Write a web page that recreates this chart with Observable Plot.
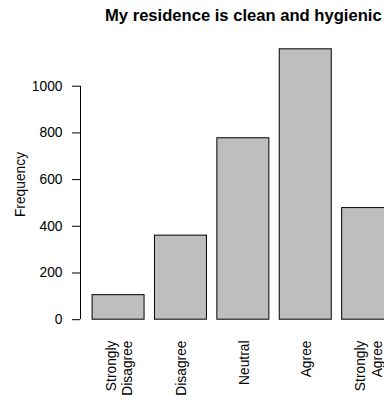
<!DOCTYPE html>
<html><head><meta charset="utf-8">
<script src="https://cdn.jsdelivr.net/npm/d3@7"></script>
<script src="https://cdn.jsdelivr.net/npm/@observablehq/plot@0.6"></script>
<style>
html,body{margin:0;padding:0;background:#fff;overflow:hidden;}
#chart svg{overflow:hidden;display:block;}
</style></head><body><div id="chart"></div>
<script>
const title = "My residence is clean and hygienic";
const categories = ["Strongly\nDisagree", "Disagree", "Neutral", "Agree", "Strongly\nAgree"];
const frequencies = [105, 360, 777, 1158, 478];
const yTicks = [0, 200, 400, 600, 800, 1000];
const yLabel = "Frequency";

// R barplot geometry: width 1, space 0.2
const barWidth = 1, space = 0.2;
const data = categories.map((c, i) => ({
  category: c,
  value: frequencies[i],
  x1: space + i * (barWidth + space),
  x2: space + i * (barWidth + space) + barWidth
}));
const xl = [data[0].x1, data[data.length - 1].x2];
const xPad = 0.04 * (xl[1] - xl[0]);
const xDomain = [xl[0] - xPad, xl[1] + xPad];
const yMax = d3.max(frequencies);
const yPad = 0.04 * yMax;
const yDomain = [-yPad, yMax + yPad];

const font = "'Liberation Sans', Arial, Helvetica, sans-serif";
const fs = 13.8;

const chart = Plot.plot({
  width: 384,
  height: 400,
  marginTop: 38,
  marginBottom: 70,
  marginLeft: 80,
  marginRight: 0,
  style: {fontFamily: font, fontSize: fs + "px", color: "black", background: "white"},
  x: {type: "linear", domain: xDomain, range: [80, 405.7], axis: null},
  y: {domain: yDomain, axis: null},
  marks: [
    Plot.rectY(data, {x1: "x1", x2: "x2", y: "value", fill: "#bebebe", stroke: "black", strokeWidth: 1}),
    Plot.ruleX([xDomain[0]], {y1: yTicks[0], y2: yTicks[yTicks.length - 1], stroke: "black"}),
    Plot.axisY(yTicks, {anchor: "left", tickSize: 8, tickPadding: 10, label: null, fontSize: fs, stroke: "black", tickFormat: d => String(d)}),
    Plot.text(data, {
      x: d => (d.x1 + d.x2) / 2, text: "category", frameAnchor: "bottom",
      rotate: -90, textAnchor: "end", lineAnchor: "middle", lineHeight: 1.2, dy: 10, fontSize: fs, fill: "black"
    }),
    Plot.text([yLabel], {text: d => d, frameAnchor: "left", rotate: -90, dx: -60, textAnchor: "middle", lineAnchor: "middle", fontSize: fs, fill: "black"}),
    Plot.text([title], {
      text: d => d, x: (xDomain[0] + xDomain[1]) / 2, frameAnchor: "top", dy: -23.3,
      textAnchor: "middle", lineAnchor: "middle", fontWeight: "bold", fontSize: 16.6, fill: "black"
    })
  ]
});
document.getElementById("chart").appendChild(chart);
</script></body></html>
